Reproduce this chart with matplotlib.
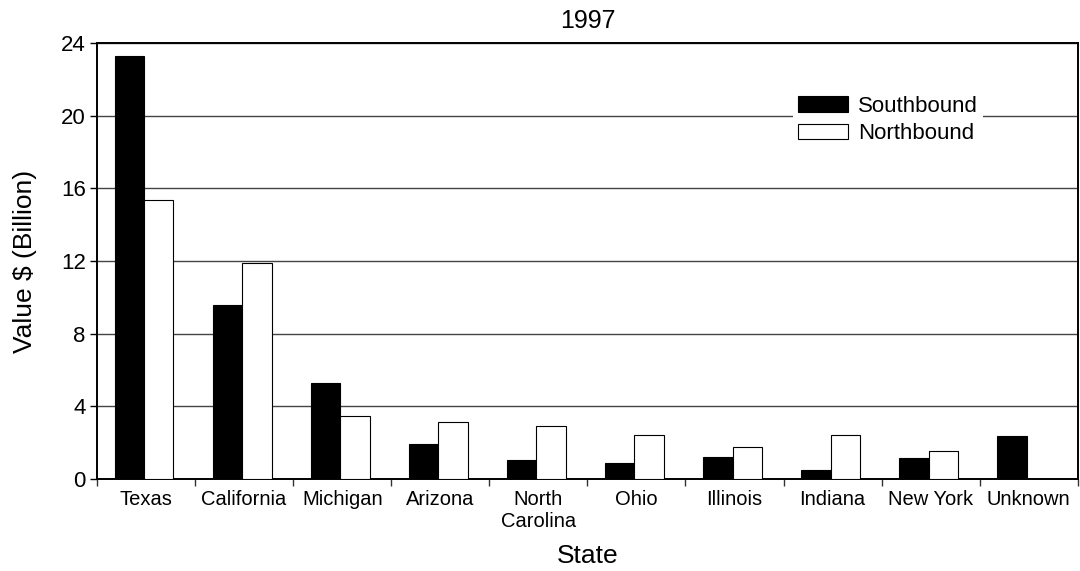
import matplotlib
matplotlib.use("Agg")
import matplotlib.pyplot as plt
import numpy as np

states = ["Texas", "California", "Michigan", "Arizona", "North\nCarolina", "Ohio",
          "Illinois", "Indiana", "New York", "Unknown"]
southbound = [23.3, 9.6, 5.3, 1.95, 1.05, 0.9, 1.23, 0.5, 1.15, 2.37]
northbound = [15.35, 11.9, 3.47, 3.15, 2.9, 2.45, 1.78, 2.45, 1.57, 0.0]
yticks = [0, 4, 8, 12, 16, 20, 24]

plt.rcParams['font.family'] = ['Liberation Sans', 'DejaVu Sans']

fig = plt.figure(figsize=(10.8, 5.71), dpi=100)
ax = fig.add_axes([0.0898, 0.161, 0.9082, 0.7637])

x = np.arange(len(states))
w = 0.3
ax.bar(x - w/2 - 0.02, southbound, w, color='black', edgecolor='black', linewidth=0.8,
       label='Southbound', zorder=3)
ax.bar(x + w/2 - 0.02, northbound, w, color='white', edgecolor='black', linewidth=0.8,
       label='Northbound', zorder=3)

ax.set_xlim(-0.5, len(states) - 0.5)
ax.set_ylim(0, 24)
ax.set_yticks(yticks)
ax.set_yticklabels([str(t) for t in yticks], fontsize=16)
ax.yaxis.grid(True, color='#444444', linewidth=1.0, zorder=0)
ax.set_axisbelow(True)

ax.set_xticks(x)
ax.set_xticklabels(states, fontsize=14.5, linespacing=1.2)
ax.tick_params(axis='x', which='major', length=0, pad=8)
ax.set_xticks(np.arange(-0.5, len(states), 1.0), minor=True)
ax.tick_params(axis='x', which='minor', length=5, width=1, color='#333333')
ax.tick_params(axis='y', length=5, width=1, pad=3)

for s in ax.spines.values():
    s.set_linewidth(1.4)

ax.set_ylabel('Value $ (Billion)', fontsize=19, labelpad=17)
ax.set_xlabel('State', fontsize=19, labelpad=9)
ax.set_title('1997', fontsize=18, pad=11)

leg = ax.legend(loc='upper left', bbox_to_anchor=(0.7095, 0.89), frameon=True,
                fontsize=16, handlelength=2.25, handleheight=0.68, handletextpad=0.45,
                labelspacing=0.28, borderpad=0.22, borderaxespad=0)
leg.get_frame().set_edgecolor('white')
leg.get_frame().set_facecolor('white')
leg.get_frame().set_alpha(1)
leg.get_frame().set_boxstyle('square', pad=0)
leg.get_frame().set_linewidth(0)

fig.savefig('out.png', dpi=100)
